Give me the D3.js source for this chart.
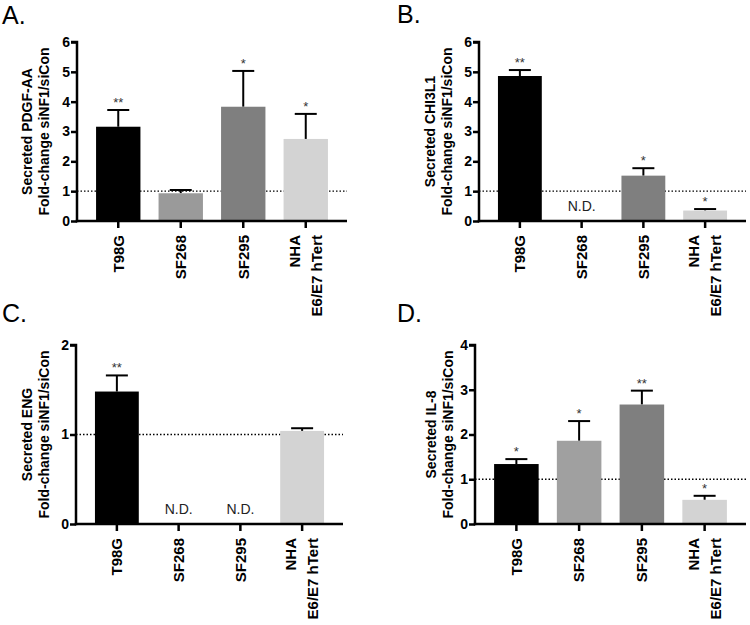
<!DOCTYPE html>
<html>
<head>
<meta charset="utf-8">
<script src="https://cdn.jsdelivr.net/npm/d3@7/dist/d3.min.js"></script>
<style>
  body { margin: 0; background: #fff; }
  svg { display: block; }
  text { font-family: "Liberation Sans", Arial, sans-serif; }
</style>
</head>
<body>
<svg id="chart" width="750" height="625"></svg>
<script>
// ---- Data ----
const categories = ["T98G", "SF268", "SF295", "NHA"];
const categoryLines = [["T98G"], ["SF268"], ["SF295"], ["NHA", "E6/E7 hTert"]];

const panelLetters = ["A.", "B.", "C.", "D."];
const proteins = ["Secreted PDGF-AA", "Secreted CHI3L1", "Secreted ENG", "Secreted IL-8"];
const yAxisLine2 = "Fold-change siNF1/siCon";
const yMax = [6, 6, 2, 4];
const yTicks = [[0,1,2,3,4,5,6], [0,1,2,3,4,5,6], [0,1,2], [0,1,2,3,4]];

const meansA = [3.16, 0.93, 3.83, 2.75];
const errTopA = [3.72, 1.04, 5.03, 3.59];
const starsA = ["**", "", "*", "*"];

const meansB = [4.86, null, 1.52, 0.35];
const errTopB = [5.06, null, 1.77, 0.40];
const starsB = ["**", "", "*", "*"];

const meansC = [1.48, null, null, 1.04];
const errTopC = [1.66, null, null, 1.07];
const starsC = ["**", "", "", ""];

const meansD = [1.34, 1.86, 2.67, 0.54];
const errTopD = [1.45, 2.30, 2.98, 0.63];
const starsD = ["*", "*", "**", "*"];

const barColorsA = ["#000000", "#9a9a9a", "#7f7f7f", "#d3d3d3"];
const barColorsD = ["#000000", "#a0a0a0", "#7f7f7f", "#d3d3d3"];

const referenceLevel = 1;
const notDetected = "N.D.";

// ---- Layout ----
const svg = d3.select("#chart");
const panels = [
  { letter: panelLetters[0], lx: 2,   ly: 24,  x0: 77,  x1: 347, yTop: 42,  yBot: 221, lab1: 50, lab2: 33,
    means: meansA, errs: errTopA, stars: starsA, colors: barColorsA, max: yMax[0], ticks: yTicks[0], name: proteins[0] },
  { letter: panelLetters[1], lx: 397, ly: 23,  x0: 479, x1: 746, yTop: 42,  yBot: 221, lab1: 49, lab2: 32,
    means: meansB, errs: errTopB, stars: starsB, colors: barColorsA, max: yMax[1], ticks: yTicks[1], name: proteins[1] },
  { letter: panelLetters[2], lx: 2,   ly: 322, x0: 76,  x1: 343, yTop: 345, yBot: 524, lab1: 49, lab2: 32,
    means: meansC, errs: errTopC, stars: starsC, colors: barColorsA, max: yMax[2], ticks: yTicks[2], name: proteins[2] },
  { letter: panelLetters[3], lx: 397, ly: 322, x0: 475, x1: 746, yTop: 345, yBot: 524, lab1: 44, lab2: 27,
    means: meansD, errs: errTopD, stars: starsD, colors: barColorsD, max: yMax[3], ticks: yTicks[3], name: proteins[3] }
];

panels.forEach(p => {
  const g = svg.append("g");
  const x = d3.scaleBand().domain(categories).range([p.x0 + 10, p.x1 - 10])
    .paddingInner(0.29).paddingOuter(0.145);
  const y = d3.scaleLinear().domain([0, p.max]).range([p.yBot, p.yTop]);

  // panel letter
  g.append("text").attr("x", p.lx).attr("y", p.ly)
    .attr("font-size", 25).attr("fill", "#000").text(p.letter);

  // dotted reference line
  g.append("line")
    .attr("x1", p.x0).attr("x2", p.x1)
    .attr("y1", y(referenceLevel)).attr("y2", y(referenceLevel))
    .attr("stroke", "#000").attr("stroke-width", 1.4)
    .attr("stroke-dasharray", "1.5,2");

  const idx = d3.range(categories.length);

  // error bars (upper only)
  idx.filter(i => p.means[i] != null).forEach(i => {
    const cx = x(categories[i]) + x.bandwidth() / 2;
    g.append("line").attr("x1", cx).attr("x2", cx)
      .attr("y1", y(p.means[i])).attr("y2", y(p.errs[i]))
      .attr("stroke", "#000").attr("stroke-width", 2);
    g.append("line").attr("x1", cx - 11).attr("x2", cx + 11)
      .attr("y1", y(p.errs[i])).attr("y2", y(p.errs[i]))
      .attr("stroke", "#000").attr("stroke-width", 2);
  });

  // bars
  g.selectAll("rect.bar").data(idx.filter(i => p.means[i] != null)).enter()
    .append("rect").attr("class", "bar")
    .attr("x", i => x(categories[i]))
    .attr("width", x.bandwidth())
    .attr("y", i => y(p.means[i]))
    .attr("height", i => y(0) - y(p.means[i]))
    .attr("fill", i => p.colors[i]);

  // significance stars
  idx.filter(i => p.means[i] != null && p.stars[i]).forEach(i => {
    const cx = x(categories[i]) + x.bandwidth() / 2;
    g.append("text").attr("x", cx).attr("y", y(p.errs[i]) - 3)
      .attr("text-anchor", "middle").attr("font-size", 13).attr("fill", "#333")
      .text(p.stars[i]);
  });

  // N.D. labels
  idx.filter(i => p.means[i] == null).forEach(i => {
    const cx = x(categories[i]) + x.bandwidth() / 2;
    g.append("text").attr("x", cx).attr("y", p.yBot - 10)
      .attr("text-anchor", "middle").attr("font-size", 14).attr("fill", "#222")
      .text(notDetected);
  });

  // y axis
  const yAxis = d3.axisLeft(y).tickValues(p.ticks).tickFormat(d3.format("d"))
    .tickSize(6).tickPadding(1);
  const ga = g.append("g").attr("transform", `translate(${p.x0},0)`).call(yAxis);
  ga.select(".domain").attr("d", `M-6,${p.yTop}H0V${p.yBot + 1.25}`).attr("stroke-width", 2.5);
  ga.selectAll(".tick line").attr("stroke-width", 2.5);
  ga.selectAll(".tick text").attr("font-size", 14).attr("font-weight", "bold")
    .attr("font-family", "'Liberation Sans', Arial, sans-serif").attr("fill", "#000");

  // x axis
  const xAxis = d3.axisBottom(x).tickSize(7).tickFormat("");
  const gx = g.append("g").attr("transform", `translate(0,${p.yBot})`).call(xAxis);
  gx.select(".domain").attr("d", `M${p.x0 - 1.25},0H${p.x1}`).attr("stroke-width", 2.5);
  gx.selectAll(".tick line").attr("stroke-width", 2.5);

  // x category labels (rotated)
  idx.forEach(i => {
    const cx = x(categories[i]) + x.bandwidth() / 2;
    const lines = categoryLines[i];
    const n = lines.length;
    lines.forEach((t, k) => {
      const off = (k - (n - 1) / 2) * 22;
      g.append("text")
        .attr("transform", `translate(${cx + off},${p.yBot + 14}) rotate(-90)`)
        .attr("dy", "0.35em")
        .attr("text-anchor", "end").attr("font-size", 15).attr("font-weight", "bold")
        .attr("fill", "#000").text(t);
    });
  });

  // y axis title (two lines)
  const midY = (p.yTop + p.yBot) / 2;
  [[p.name, p.lab1], [yAxisLine2, p.lab2]].forEach(([t, off]) => {
    g.append("text")
      .attr("transform", `translate(${p.x0 - off},${midY}) rotate(-90)`)
      .attr("dy", "0.35em").attr("text-anchor", "middle")
      .attr("font-size", 14).attr("font-weight", "bold").attr("fill", "#000")
      .text(t);
  });
});
</script>
</body>
</html>
